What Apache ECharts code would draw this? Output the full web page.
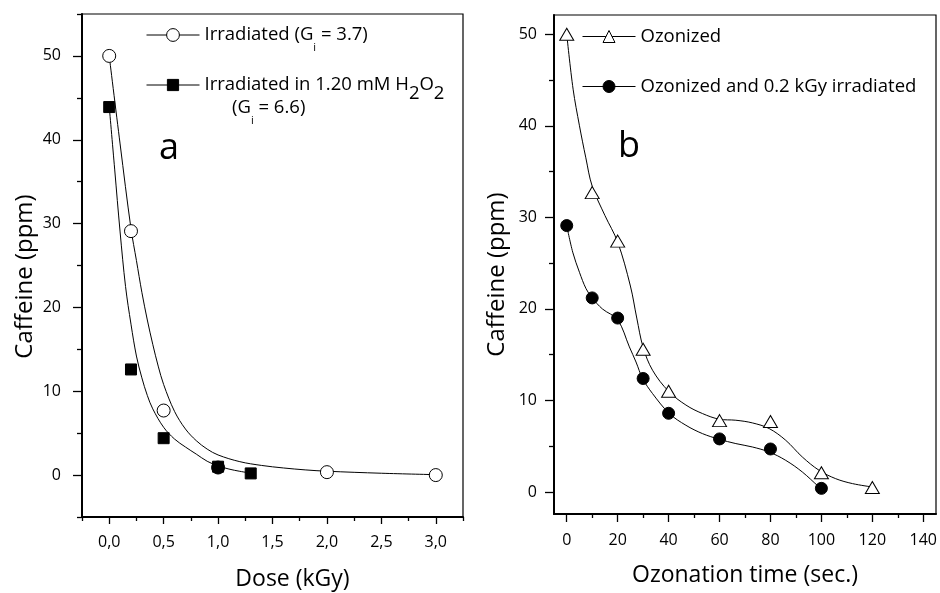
<!DOCTYPE html>
<html><head><meta charset="utf-8">
<script src="https://cdn.jsdelivr.net/npm/echarts@6/dist/echarts.min.js"></script>
<style>html,body{margin:0;padding:0;background:#fff}#c{width:940px;height:593px}</style>
</head><body><div id="c"></div>
<script>
// ---------- Panel a : dose experiments ----------
const doseIrradiated = [0, 0.2, 0.5, 1.0, 2.0, 3.0];
const caffeineIrradiated = [50, 29.1, 7.7, 0.9, 0.35, 0];
const doseH2O2 = [0, 0.2, 0.5, 1.0, 1.3];
const caffeineH2O2 = [43.9, 12.6, 4.4, 1.0, 0.2];
// fitted curves
const fitIrrDose = [0, 0.1, 0.2, 0.25, 0.3, 0.35, 0.4, 0.45, 0.5, 0.6, 0.7, 0.8, 0.9, 1.0, 1.2, 1.4, 1.6, 1.8, 2.0, 2.5, 3.0];
const fitIrrPpm  = [50, 39.5, 29.4, 25.6, 21.8, 18.5, 15.6, 13.0, 10.8, 7.6, 5.5, 4.1, 3.1, 2.4, 1.6, 1.15, 0.85, 0.62, 0.46, 0.22, 0.05];
const fitH2O2Dose = [0, 0.05, 0.1, 0.15, 0.2, 0.25, 0.3, 0.35, 0.4, 0.5, 0.6, 0.7, 0.8, 0.9, 1.0, 1.1, 1.2, 1.3];
const fitH2O2Ppm  = [44, 36.5, 29, 22.5, 18, 14.2, 11.6, 9.5, 7.9, 5.7, 4.3, 3.35, 2.5, 1.65, 1.1, 0.72, 0.45, 0.24];
const doseMajorTicks = [0, 0.5, 1.0, 1.5, 2.0, 2.5, 3.0];
const doseMinorTicks = [-0.25, 0.25, 0.75, 1.25, 1.75, 2.25, 2.75, 3.25];
const ppmMajorTicksA = [0, 10, 20, 30, 40, 50];
const ppmMinorTicksA = [-5, 5, 15, 25, 35, 45, 55];

// ---------- Panel b : ozonation experiments ----------
const timeOzonized = [0, 10, 20, 30, 40, 60, 80, 100, 120];
const caffeineOzonized = [50, 32.7, 27.4, 15.6, 11.0, 7.8, 7.7, 2.1, 0.5];
const timeOzIrr = [0, 10, 20, 30, 40, 60, 80, 100];
const caffeineOzIrr = [29.1, 21.2, 19.0, 12.4, 8.6, 5.8, 4.7, 0.4];
const fitOzTime = [0, 2.5, 5, 7.5, 10, 15, 20, 25, 27.5, 30, 33.7, 40, 46.8, 53.3, 60, 66.4, 72.9, 79.5, 86, 92.5, 99.1, 105.6, 112.2, 120];
const fitOzPpm  = [50, 44, 40, 36.5, 33.4, 30.2, 27.3, 22.5, 19, 15.8, 13.3, 11, 9.5, 8.57, 7.95, 7.84, 7.55, 6.93, 5.65, 3.83, 2.37, 1.46, 0.92, 0.55];
const fitOzIrrTime = [0, 2.35, 5, 7.6, 10, 14, 20, 24.6, 27.2, 29.8, 33.7, 40.3, 46.8, 53.3, 59.9, 66.4, 72.9, 79.5, 86, 92.5, 99.1, 100];
const fitOzIrrPpm  = [29.1, 26.2, 24.0, 22.2, 21.2, 20.0, 18.8, 15.85, 14.2, 12.4, 10.75, 8.57, 7.29, 6.38, 5.76, 5.29, 4.92, 4.37, 3.46, 2.19, 0.55, 0.4];
const timeMajorTicks = [0, 20, 40, 60, 80, 100, 120, 140];
const timeMinorTicks = [10, 30, 50, 70, 90, 110, 130];
const ppmMajorTicksB = [0, 10, 20, 30, 40, 50];
const ppmMinorTicksB = [5, 15, 25, 35, 45];

const zip = (a, b) => a.map((v, i) => [v, b[i]]);
const FONT = 'Open Sans';
const BLACK = '#000';

const richStyles = {
  n: { fontFamily: FONT, fontSize: 18.5, color: BLACK, lineHeight: 22, verticalAlign: 'middle' },
  s: { fontFamily: FONT, fontSize: 18.5, color: BLACK, lineHeight: 22, padding: [10, 0, 2, 0], verticalAlign: 'top' },
  i: { fontFamily: FONT, fontSize: 11, color: BLACK, lineHeight: 12, padding: [18, 0, 4, 0], verticalAlign: 'top' }
};
const legendText = {
  'Irradiated': '{n|Irradiated (G}{i|i}{n| = 3.7)}',
  'Irradiated in H2O2': '{n|Irradiated in 1.20 mM H}{s|2}{n|O}{s|2}',
  'Ozonized': '{n|Ozonized}',
  'Ozonized and irradiated': '{n|Ozonized and 0.2 kGy irradiated}'
};

function mkLegend(name, left, top, h) {
  return {
    data: [name], left: left, top: top, orient: 'horizontal', padding: 0,
    itemWidth: 53, itemHeight: h, selectedMode: false,
    formatter: n => legendText[n],
    textStyle: { fontFamily: FONT, fontSize: 18.5, color: BLACK, rich: richStyles },
    lineStyle: { color: BLACK, width: 1, opacity: 1, type: 'solid' },
    itemStyle: { borderColor: BLACK, borderWidth: 1 }
  };
}

function mainX(gi, min, max, major, name, gap, fmt, margin, pad) {
  return {
    type: 'value', gridIndex: gi, min: min, max: max, position: 'bottom',
    axisLine: { show: true, onZero: false, lineStyle: { color: BLACK, width: 2 } },
    axisTick: { show: false },
    axisLabel: { show: true, customValues: major, formatter: fmt, margin: margin, color: BLACK, fontFamily: FONT, fontSize: 16 },
    splitLine: { show: false },
    name: name, nameLocation: 'middle', nameGap: gap,
    nameTextStyle: { fontFamily: FONT, fontSize: 23, color: BLACK, padding: pad }
  };
}
function tickX(gi, min, max, vals, len) {
  return {
    type: 'value', gridIndex: gi, min: min, max: max, position: 'bottom',
    axisLine: { show: false, onZero: false }, axisLabel: { show: false }, splitLine: { show: false },
    axisTick: { show: true, inside: false, length: len, customValues: vals, lineStyle: { color: BLACK, width: 1.3 } }
  };
}
function mainY(gi, min, max, major, name, gap, margin, pad) {
  return {
    type: 'value', gridIndex: gi, min: min, max: max, position: 'left',
    axisLine: { show: true, onZero: false, lineStyle: { color: BLACK, width: 2 } },
    axisTick: { show: false },
    axisLabel: { show: true, customValues: major, margin: margin, color: BLACK, fontFamily: FONT, fontSize: 16 },
    splitLine: { show: false },
    name: name, nameLocation: 'middle', nameGap: gap,
    nameTextStyle: { fontFamily: FONT, fontSize: 24, color: BLACK, padding: pad }
  };
}
function tickY(gi, min, max, vals, len) {
  return {
    type: 'value', gridIndex: gi, min: min, max: max, position: 'left',
    axisLine: { show: false, onZero: false }, axisLabel: { show: false }, splitLine: { show: false },
    axisTick: { show: true, inside: false, length: len, customValues: vals, lineStyle: { color: BLACK, width: 1.3 } }
  };
}

function fitSeries(xi, yi, xs, ys) {
  return {
    type: 'line', xAxisIndex: xi, yAxisIndex: yi, data: zip(xs, ys),
    smooth: 0.35, symbol: 'none', silent: true, z: 2,
    lineStyle: { color: BLACK, width: 1 }
  };
}
function pointSeries(name, xi, yi, xs, ys, symbol, size, fill, z) {
  return {
    name: name, type: 'line', xAxisIndex: xi, yAxisIndex: yi, data: zip(xs, ys),
    symbol: symbol, symbolSize: size, showSymbol: true, showAllSymbol: true, z: z || 5,
    lineStyle: { opacity: 0 },
    itemStyle: { color: fill, borderColor: BLACK, borderWidth: 1, opacity: 1 }
  };
}

const commaFmt = v => v.toFixed(1).replace('.', ',');

// the open circle hidden under the square at 1.0 kGy prints as a solid blob
const irrSeries = pointSeries('Irradiated', 0, 0, doseIrradiated, caffeineIrradiated, 'circle', 13, '#fff', 5);
irrSeries.data = irrSeries.data.map(p => (p[0] === 1.0 ? { value: p, itemStyle: { color: BLACK } } : p));

const option = {
  backgroundColor: '#fff',
  animation: false,
  grid: [
    { left: 82, top: 14, width: 381, height: 503, show: true, borderColor: BLACK, borderWidth: 1.2, backgroundColor: 'transparent', containLabel: false, outerBoundsMode: 'none' },
    { left: 554, top: 15, width: 382, height: 499, show: true, borderColor: BLACK, borderWidth: 1.2, backgroundColor: 'transparent', containLabel: false, outerBoundsMode: 'none' }
  ],
  xAxis: [
    mainX(0, -0.25, 3.25, doseMajorTicks, 'Dose (kGy)', 51, commaFmt, 17, [0, 0, 0, 40]),
    mainX(1, -5, 145, timeMajorTicks, 'Ozonation time (sec.)', 50, v => String(v), 18, [0, 0, 0, 0]),
    tickX(0, -0.25, 3.25, doseMajorTicks, 7),
    tickX(0, -0.25, 3.25, doseMinorTicks, 4),
    tickX(1, -5, 145, timeMajorTicks, 8),
    tickX(1, -5, 145, timeMinorTicks, 4)
  ],
  yAxis: [
    mainY(0, -5, 55, ppmMajorTicksA, 'Caffeine (ppm)', 45, 21, [0, 22, 0, 0]),
    mainY(1, -2.4, 52.1, ppmMajorTicksB, 'Caffeine (ppm)', 45, 17, [0, 20, 0, 0]),
    tickY(0, -5, 55, ppmMajorTicksA, 9),
    tickY(0, -5, 55, ppmMinorTicksA, 5),
    tickY(1, -2.4, 52.1, ppmMajorTicksB, 9),
    tickY(1, -2.4, 52.1, ppmMinorTicksB, 5)
  ],
  legend: [
    mkLegend('Irradiated', 146, 24, 16),
    mkLegend('Irradiated in H2O2', 146, 74, 14),
    mkLegend('Ozonized', 582, 27, 15),
    mkLegend('Ozonized and irradiated', 582, 77, 15)
  ],
  graphic: [
    { type: 'text', x: 169, y: 149, style: { text: 'a', fontFamily: FONT, fontSize: 36, fill: BLACK, align: 'center', verticalAlign: 'middle' } },
    { type: 'text', x: 629, y: 147, style: { text: 'b', fontFamily: FONT, fontSize: 36, fill: BLACK, align: 'center', verticalAlign: 'middle' } },
    { type: 'text', x: 232, y: 108, style: { text: '{n|(G}{i|i}{n| = 6.6)}', fontFamily: FONT, fontSize: 18.5, fill: BLACK, align: 'left', verticalAlign: 'middle', rich: richStyles } }
  ],
  series: [
    fitSeries(0, 0, fitIrrDose, fitIrrPpm),
    fitSeries(0, 0, fitH2O2Dose, fitH2O2Ppm),
    irrSeries,
    pointSeries('Irradiated in H2O2', 0, 0, doseH2O2, caffeineH2O2, 'rect', 11, BLACK, 6),
    fitSeries(1, 1, fitOzTime, fitOzPpm),
    fitSeries(1, 1, fitOzIrrTime, fitOzIrrPpm),
    pointSeries('Ozonized', 1, 1, timeOzonized, caffeineOzonized, 'triangle', [14, 12], '#fff', 5),
    pointSeries('Ozonized and irradiated', 1, 1, timeOzIrr, caffeineOzIrr, 'circle', 12, BLACK, 5)
  ]
};

const chart = echarts.init(document.getElementById('c'), null, { renderer: 'canvas' });
chart.setOption(option);
</script>
</body></html>
